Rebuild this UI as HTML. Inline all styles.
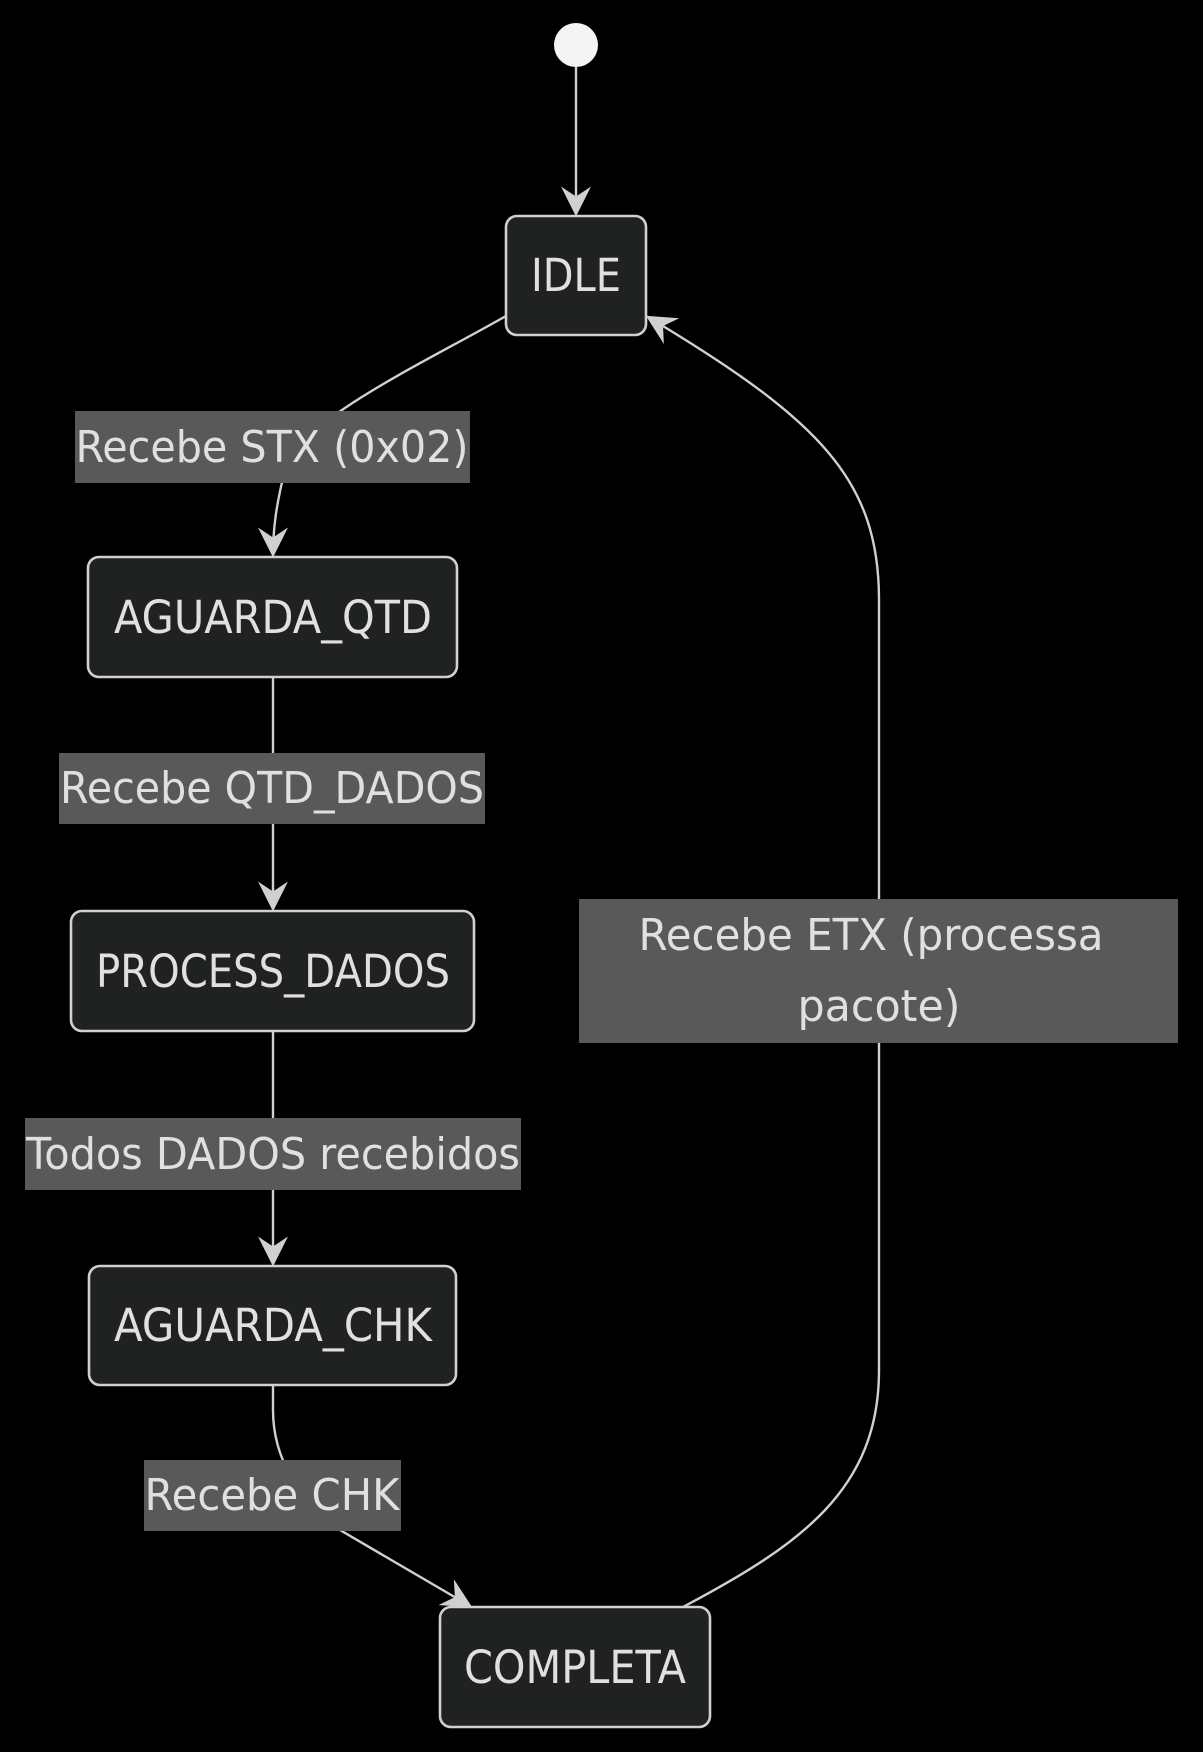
<!DOCTYPE html>
<html><head><meta charset="utf-8"><style>
html,body{margin:0;padding:0;background:#000;}
svg{display:block;}
text{font-family:"DejaVu Sans","Liberation Sans",sans-serif;fill:#e0e0e0;}
</style></head><body>
<svg width="1203" height="1752" viewBox="0 0 1203 1752" xmlns="http://www.w3.org/2000/svg">
<defs>
<marker id="b" viewBox="0 0 12 12" refX="11" refY="6" markerWidth="30" markerHeight="30" markerUnits="userSpaceOnUse" orient="auto">
<path d="M0,0 L12,6 L0,12 L4,6 z" fill="#d0d0d0"/>
</marker>
</defs>
<g fill="none" stroke="#d0d0d0" stroke-width="2.4">
<path d="M576,67 L576,214" marker-end="url(#b)"/>
<path d="M506,316 C420,365 300,420 285,470 C276,505 273,530 273,555" marker-end="url(#b)"/>
<path d="M273,677 L273,909" marker-end="url(#b)"/>
<path d="M273,1031 L273,1264" marker-end="url(#b)"/>
<path d="M273,1385 L273,1410 C273,1460 300,1500 340,1530 L470,1606" marker-end="url(#b)"/>
<path d="M683,1607 C800,1545 879,1490 879,1370 L879,600 C879,480 820,420 648,317" marker-end="url(#b)"/>
</g>
<circle cx="576" cy="45" r="22" fill="#f4f4f4"/>
<g fill="#202222" stroke="#d0d0d0" stroke-width="2.6">
<rect x="506" y="216" width="140" height="119" rx="11"/>
<rect x="88" y="557" width="369" height="120" rx="11"/>
<rect x="71" y="911" width="403" height="120" rx="11"/>
<rect x="89" y="1266" width="367" height="119" rx="11"/>
<rect x="440" y="1607" width="270" height="120" rx="11"/>
</g>
<g font-size="45" text-anchor="middle">
<text x="576" y="291" textLength="90" lengthAdjust="spacingAndGlyphs">IDLE</text>
<text x="273" y="633" textLength="318" lengthAdjust="spacingAndGlyphs">AGUARDA_QTD</text>
<text x="273" y="987" textLength="354" lengthAdjust="spacingAndGlyphs">PROCESS_DADOS</text>
<text x="273" y="1341" textLength="318" lengthAdjust="spacingAndGlyphs">AGUARDA_CHK</text>
<text x="575" y="1683" textLength="222" lengthAdjust="spacingAndGlyphs">COMPLETA</text>
</g>
<g fill="#595959">
<rect x="75" y="411" width="395" height="72"/>
<rect x="59" y="753" width="426" height="71"/>
<rect x="25" y="1118" width="496" height="72"/>
<rect x="144" y="1460" width="257" height="71"/>
<rect x="579" y="899" width="599" height="144"/>
</g>
<g font-size="44" text-anchor="middle" style="fill:#d8d8d8">
<text x="272" y="462" textLength="393" lengthAdjust="spacingAndGlyphs">Recebe STX (0x02)</text>
<text x="272" y="803" textLength="424" lengthAdjust="spacingAndGlyphs">Recebe QTD_DADOS</text>
<text x="273" y="1169" textLength="494" lengthAdjust="spacingAndGlyphs">Todos DADOS recebidos</text>
<text x="272" y="1510" textLength="255" lengthAdjust="spacingAndGlyphs">Recebe CHK</text>
<text x="871" y="950" textLength="465" lengthAdjust="spacingAndGlyphs">Recebe ETX (processa</text>
<text x="879" y="1021" textLength="163" lengthAdjust="spacingAndGlyphs">pacote)</text>
</g>
</svg>
</body></html>
